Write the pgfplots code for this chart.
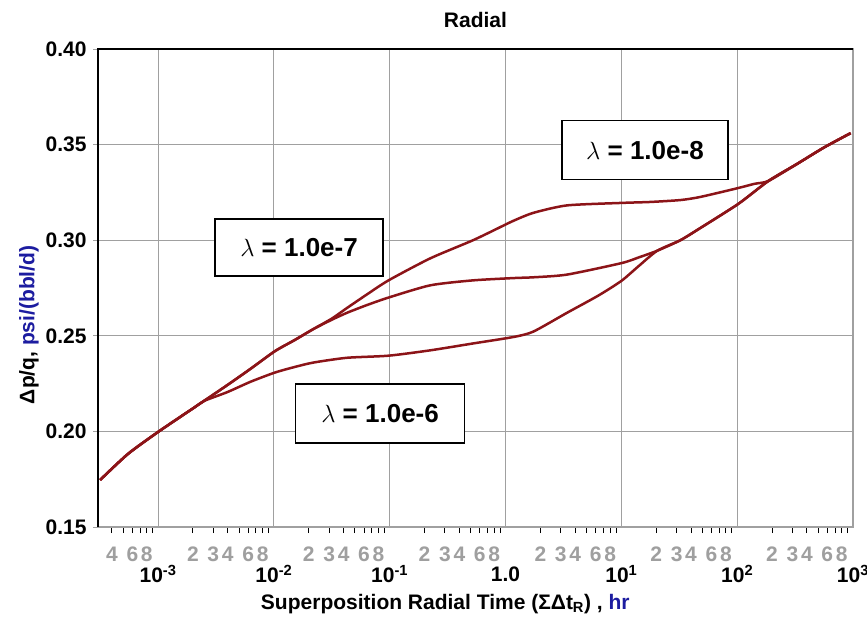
\documentclass[border=0pt]{standalone}
\usepackage{fontspec}
\setmainfont{Liberation Sans}
\usepackage{pgfplots}
\usepackage{pgfplotstable}
\pgfplotsset{compat=1.18}
\definecolor{curve}{HTML}{8C1418}
\definecolor{unitblue}{HTML}{1C1CA0}
\definecolor{gridgray}{HTML}{A0A0A0}

% lambda = 1e-6
\pgfplotstableread{
x y
3.162e-4 0.1746
5.495e-4 0.1882
1.0e-3 0.1997
2.089e-3 0.2128
2.512e-3 0.2160
3.981e-3 0.2206
6.310e-3 0.2260
1.023e-2 0.2308
1.514e-2 0.2337
2.188e-2 0.2360
4.266e-2 0.2385
9.772e-2 0.2396
0.2239 0.2424
0.5248 0.2460
1.175 0.2494
1.738 0.2522
3.388 0.2620
6.310 0.2710
10.0 0.2787
14.13 0.2865
20.42 0.2945
32.36 0.3000
47.86 0.3063
102.3 0.3190
186.2 0.3310
331.1 0.3400
562.3 0.3485
955.0 0.3560
}\lamsix

% lambda = 1e-7
\pgfplotstableread{
x y
3.162e-4 0.1746
5.495e-4 0.1882
1.0e-3 0.1997
2.089e-3 0.2128
3.981e-3 0.2243
6.310e-3 0.2328
1.023e-2 0.2420
1.514e-2 0.2478
2.188e-2 0.2535
3.162e-2 0.2584
4.266e-2 0.2620
6.310e-2 0.2660
9.772e-2 0.2700
0.2239 0.2764
0.5248 0.2790
1.175 0.2802
1.738 0.2806
3.388 0.2820
10.0 0.2880
14.13 0.2910
20.42 0.2945
32.36 0.3000
47.86 0.3063
102.3 0.3190
186.2 0.3310
331.1 0.3400
562.3 0.3485
955.0 0.3560
}\lamseven

% lambda = 1e-8
\pgfplotstableread{
x y
3.162e-4 0.1746
5.495e-4 0.1882
1.0e-3 0.1997
2.089e-3 0.2128
3.981e-3 0.2243
6.310e-3 0.2328
1.023e-2 0.2420
1.514e-2 0.2478
2.188e-2 0.2535
3.162e-2 0.2590
4.266e-2 0.2645
6.310e-2 0.2715
9.772e-2 0.2790
0.2239 0.2905
0.5248 0.3000
0.912 0.3070
1.175 0.3102
1.738 0.3143
3.388 0.3182
10.0 0.3195
17.78 0.3200
32.36 0.3210
47.86 0.3226
102.3 0.3273
141.3 0.3295
186.2 0.3310
331.1 0.3400
562.3 0.3485
955.0 0.3560
}\lameight

\begin{document}
\begin{tikzpicture}
\begin{axis}[
    at={(0,0)}, anchor=south west,
    scale only axis,
    width=755pt, height=478pt,
    xmode=log,
    xmin=3.03e-4, xmax=1000,
    ymin=0.15, ymax=0.40,
    /pgf/number format/assume math mode=true,
    font=\fontsize{21}{24}\selectfont\bfseries,
    title={Radial},
    title style={at={(0.5,1)}, anchor=center, yshift=23pt},
    xlabel={Superposition Radial Time (ΣΔt\textsubscript{R}) , \textcolor{unitblue}{hr}},
    xlabel style={at={(axis description cs:0.46,-0.161)}, anchor=center},
    ylabel={Δp/q, \textcolor{unitblue}{psi/(bbl/d)}},
    ylabel style={at={(axis description cs:-0.0914,0.423)}, anchor=center},
    xtick={1e-3,1e-2,1e-1,1,10,100,1000},
    xticklabels={10\textsuperscript{-3},10\textsuperscript{-2},10\textsuperscript{-1},1.0,10\textsuperscript{1},10\textsuperscript{2},10\textsuperscript{3}},
    xticklabel style={anchor=center, yshift=-42pt},
    minor xtick={4e-4,5e-4,6e-4,7e-4,8e-4,9e-4,
      2e-3,3e-3,4e-3,5e-3,6e-3,7e-3,8e-3,9e-3,
      2e-2,3e-2,4e-2,5e-2,6e-2,7e-2,8e-2,9e-2,
      0.2,0.3,0.4,0.5,0.6,0.7,0.8,0.9,
      2,3,4,5,6,7,8,9,
      20,30,40,50,60,70,80,90,
      200,300,400,500,600,700,800,900},
    extra x ticks={4e-4,6e-4,8e-4,2e-3,3e-3,4e-3,6e-3,8e-3,
      2e-2,3e-2,4e-2,6e-2,8e-2,0.2,0.3,0.4,0.6,0.8,
      2,3,4,6,8,20,30,40,60,80,200,300,400,600,800},
    extra x tick labels={4,6,8,2,3,4,6,8,2,3,4,6,8,2,3,4,6,8,
      2,3,4,6,8,2,3,4,6,8,2,3,4,6,8},
    extra x tick style={grid=none, xticklabel style={yshift=20pt, text=gray!75}},
    ytick={0.15,0.20,0.25,0.30,0.35,0.40},
    yticklabel style={/pgf/number format/fixed, /pgf/number format/fixed zerofill,
      /pgf/number format/precision=2, xshift=-3pt},
    xtick pos=bottom, ytick pos=left,
    tick align=outside,
    major tick length=5pt,
    minor tick length=6pt,
    major x tick style={draw=none},
    minor x tick style={black, line width=1pt},
    ytick style={gridgray, line width=1pt},
    grid=major,
    major grid style={gridgray, line width=1pt},
    axis line style={gridgray, line width=1.5pt},
]
\addplot[curve, line width=2.5pt, smooth, tension=0.4] table[x=x, y=y] {\lamsix};
\addplot[curve, line width=2.5pt, smooth, tension=0.4] table[x=x, y=y] {\lamseven};
\addplot[curve, line width=2.5pt, smooth, tension=0.4] table[x=x, y=y] {\lameight};

\node[draw, line width=1.3pt, fill=white, minimum width=166pt, minimum height=59pt,
  font=\fontsize{26}{30}\selectfont\bfseries] at (axis cs:16,0.347)
  {{\fontsize{34}{38}\selectfont$\lambda$} = 1.0e-8};
\node[draw, line width=1.3pt, fill=white, minimum width=168pt, minimum height=57pt,
  font=\fontsize{26}{30}\selectfont\bfseries] at (axis cs:0.0165,0.2962)
  {{\fontsize{34}{38}\selectfont$\lambda$} = 1.0e-7};
\node[draw, line width=1.3pt, fill=white, minimum width=169pt, minimum height=59pt,
  font=\fontsize{26}{30}\selectfont\bfseries] at (axis cs:0.0826,0.2094)
  {{\fontsize{34}{38}\selectfont$\lambda$} = 1.0e-6};
\end{axis}
\draw[line width=2.5pt, black] (0,0) -- (0,478pt) -- (755pt,478pt);
\pgfresetboundingbox
\path[use as bounding box] (-98pt,-95pt) rectangle (769pt,527pt);
\end{tikzpicture}
\end{document}
